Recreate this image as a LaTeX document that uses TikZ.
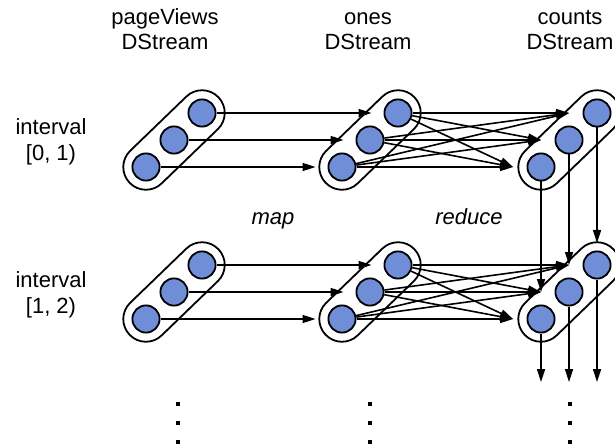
\documentclass[tikz,border=0pt]{standalone}
\usepackage{fontspec}
\setmainfont{Liberation Sans}
\usetikzlibrary{arrows.meta,calc}
\definecolor{ballblue}{RGB}{112,142,216}
\begin{document}
\begin{tikzpicture}[x=1pt,y=-1pt,
  font=\fontsize{22}{26}\selectfont,
  ball/.style={circle, draw, line width=1.8pt, fill=ballblue, minimum size=27.2pt, inner sep=0pt},
  capsule/.style={draw, line width=1.8pt, rounded corners=22.6pt, minimum width=123.3pt, minimum height=45.3pt, inner sep=0pt, rotate=44},
  arr/.style={line width=1.6pt, -{Triangle[length=13pt,width=8pt]}},
  lbl/.style={anchor=base, inner sep=0pt},
  dotmark/.style={fill, rectangle, inner sep=0pt, minimum size=3.4pt}]
\useasboundingbox (0,0) rectangle (615,446);

% headers
\node[lbl] (h1a) at (165,25) {pageViews};
\node[lbl] (h1b) at (165,50) {DStream};
\node[lbl] (h2a) at (368,25) {ones};
\node[lbl] (h2b) at (368,50) {DStream};
\node[lbl] (h3a) at (570,25) {counts};
\node[lbl] (h3b) at (570,50) {DStream};

% interval labels
\node[lbl] (i1a) at (51,135) {interval};
\node[lbl] (i1b) at (51,161) {[0, 1)};
\node[lbl] (i2a) at (51,287) {interval};
\node[lbl] (i2b) at (51,313) {[1, 2)};

\node[lbl] (lmap) at (273,225) {\itshape map};
\node[lbl] (lred) at (469,225) {\itshape reduce};

% capsules and partitions
\foreach \r/\dy in {1/0,2/152} {
  \foreach \g/\x in {p/174,o/370,c/569} {
    \node[capsule] (\g\r cap) at (\x,140+\dy) {};
    \node[ball] (\g\r b) at (\x,140+\dy) {};
    \node[ball] (\g\r a) at (\x-28,167+\dy) {};
    \node[ball] (\g\r c) at (\x+28,113+\dy) {};
  }
  \foreach \t in {a,b,c} {
    \coordinate (c\r\t-in) at ($(c\r\t)+(-28,0)$);
  }
}

% map and reduce arrows
\foreach \r in {1,2} {
  \foreach \s in {a,b,c} {
    \draw[arr, shorten >=12pt] (p\r\s) -- (o\r\s);
    \foreach \t in {a,b,c} {
      \draw[arr] (o\r\s) -- (c\r\t-in);
    }
  }
}

% state carried from interval [0,1) to [1,2)
\draw[arr] (c1a) -- (c2b-in);
\draw[arr] (c1b) -- (c2c-in);
\draw[arr, shorten >=7.5pt] (c1c) -- (c2c);

% outgoing arrows
\coordinate (c2a-out) at (541,382);
\coordinate (c2b-out) at (569,382);
\coordinate (c2c-out) at (597,382);
\draw[arr] (c2a) -- (c2a-out);
\draw[arr] (c2b) -- (c2b-out);
\draw[arr] (c2c) -- (c2c-out);

% continuation dots
\foreach \x/\n in {178/1,370/2,570/3} {
  \foreach \y/\m in {404/1,423/2,442/3} {
    \node[dotmark] (dot\n\m) at (\x,\y) {};
  }
}
\end{tikzpicture}
\end{document}
